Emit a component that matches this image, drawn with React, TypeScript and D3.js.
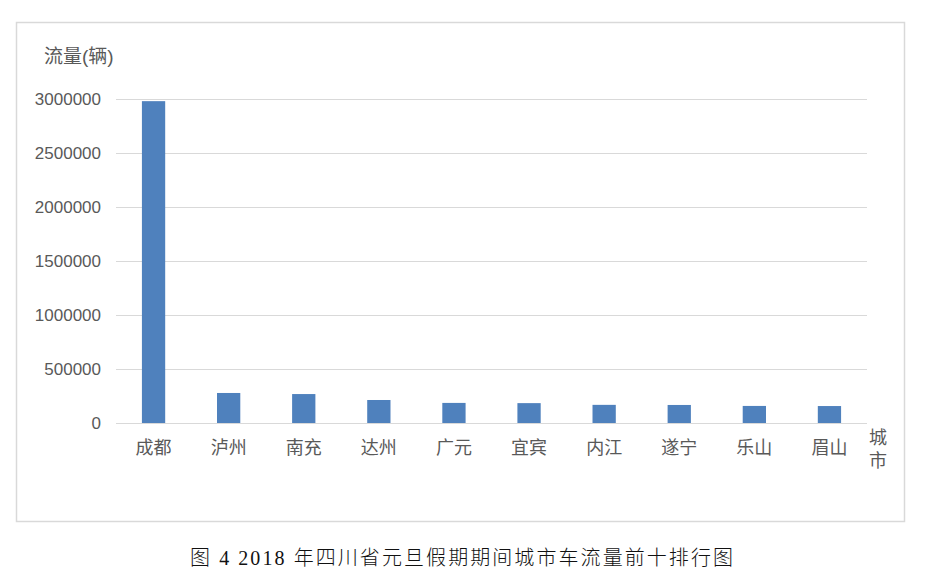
import React, { useEffect, useRef } from 'react';
import * as d3 from 'd3';

const cities = ['成都', '泸州', '南充', '达州', '广元', '宜宾', '内江', '遂宁', '乐山', '眉山'];
const flows = [2980000, 278000, 268000, 213000, 186000, 184000, 168000, 167000, 158000, 157000];
const yTicks = [0, 500000, 1000000, 1500000, 2000000, 2500000, 3000000];
const yTitle = '流量(辆)';
const xTitle = ['城', '市'];
const caption = '图 4  2018 年四川省元旦假期期间城市车流量前十排行图';

const W = 932;
const H = 584;
const font = 'Arial, "Liberation Sans", "Noto Sans CJK SC", sans-serif';

const App: React.FC = () => {
  const ref = useRef<SVGSVGElement>(null);

  useEffect(() => {
    if (!ref.current) return;
    const svg = d3.select(ref.current);
    svg.selectAll('*').remove();

    const left = 116;
    const right = 867;
    const top = 99;
    const bottom = 423;

    svg
      .append('rect')
      .attr('x', 16.5)
      .attr('y', 22.5)
      .attr('width', 888)
      .attr('height', 499)
      .attr('fill', '#fff')
      .attr('stroke', '#d9d9d9')
      .attr('stroke-width', 1.5);

    const x = d3.scaleBand<string>().domain(cities).range([left, right]).paddingInner(0.69).paddingOuter(0.345);
    const y = d3.scaleLinear().domain([0, 3000000]).range([bottom, top]);

    svg
      .append('g')
      .selectAll('line')
      .data(yTicks)
      .enter()
      .append('line')
      .attr('x1', left)
      .attr('x2', right)
      .attr('y1', d => Math.round(y(d)) + 0.5)
      .attr('y2', d => Math.round(y(d)) + 0.5)
      .attr('stroke', '#d9d9d9')
      .attr('stroke-width', 1);

    svg
      .append('g')
      .selectAll('rect')
      .data(flows)
      .enter()
      .append('rect')
      .attr('x', (_, i) => x(cities[i]) as number)
      .attr('y', d => y(d))
      .attr('width', x.bandwidth())
      .attr('height', d => bottom - y(d))
      .attr('fill', '#4f81bd');

    svg
      .append('g')
      .selectAll('text')
      .data(yTicks)
      .enter()
      .append('text')
      .attr('x', 101)
      .attr('y', d => y(d) + 6)
      .attr('text-anchor', 'end')
      .attr('font-family', font)
      .attr('font-size', 17)
      .attr('fill', '#595959')
      .text(d => String(d));

    svg
      .append('g')
      .selectAll('text')
      .data(cities)
      .enter()
      .append('text')
      .attr('x', d => (x(d) as number) + x.bandwidth() / 2)
      .attr('y', 454)
      .attr('text-anchor', 'middle')
      .attr('font-family', font)
      .attr('font-size', 18)
      .attr('fill', '#595959')
      .text(d => d);

    svg
      .append('text')
      .attr('x', 44)
      .attr('y', 63)
      .attr('font-family', font)
      .attr('font-size', 19)
      .attr('fill', '#595959')
      .text(yTitle);

    svg
      .append('g')
      .selectAll('text')
      .data(xTitle)
      .enter()
      .append('text')
      .attr('x', 878)
      .attr('y', (_, i) => 444 + i * 23)
      .attr('text-anchor', 'middle')
      .attr('font-family', font)
      .attr('font-size', 18)
      .attr('fill', '#595959')
      .text(d => d);

    svg
      .append('text')
      .attr('x', 190)
      .attr('y', 565)
      .attr('textLength', 543)
      .attr('lengthAdjust', 'spacing')
      .attr('font-family', '"Liberation Serif", "Noto Sans CJK SC", serif')
      .attr('font-weight', 300)
      .attr('font-size', 20)
      .attr('fill', '#111')
      .text(caption);
  }, []);

  return (
    <svg
      ref={ref}
      width={W}
      height={H}
      style={{ position: 'absolute', left: 0, top: 0, background: '#fff' }}
    />
  );
};

export default App;
